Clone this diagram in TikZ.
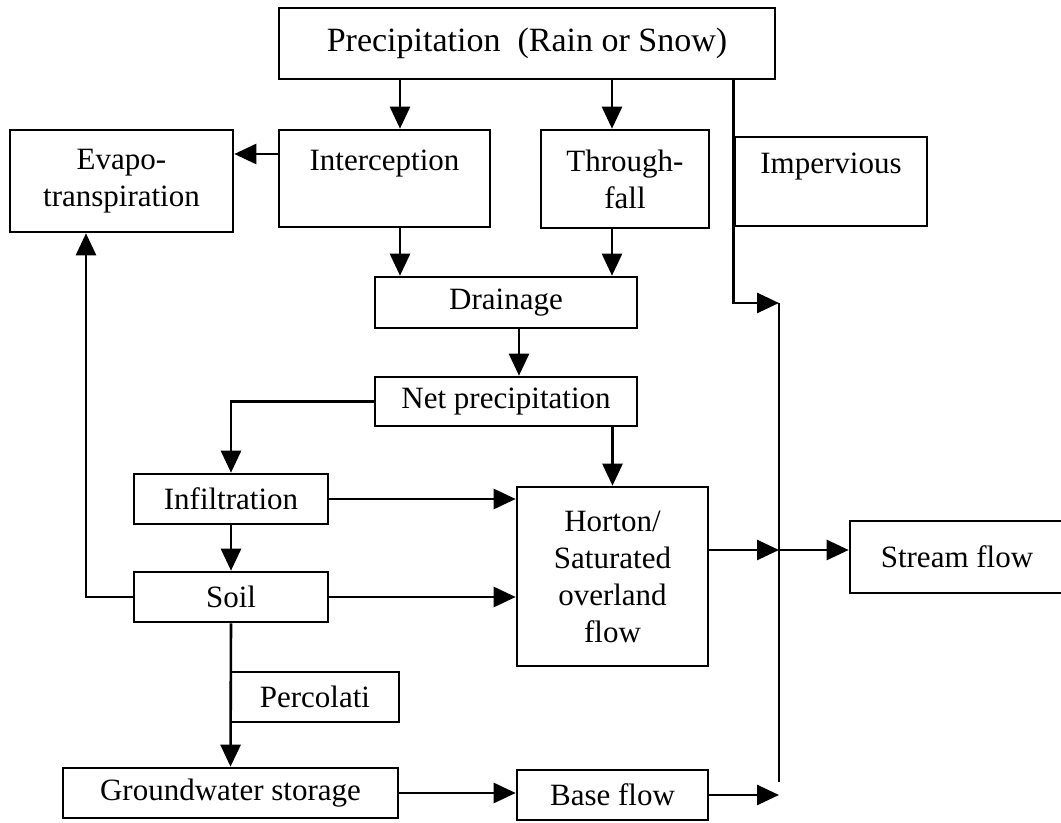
\documentclass[tikz,border=0pt]{standalone}
\usepackage{fontspec}
\setmainfont{Liberation Serif}
\usetikzlibrary{arrows.meta}

\begin{document}
\begin{tikzpicture}[x=0.5pt,y=-0.5pt,line width=1.3pt,>={Triangle[length=11pt,width=10pt]},
  box/.style={draw,inner sep=0pt,align=center,font=\fontsize{15.5}{18.5}\selectfont}]
\useasboundingbox (0,0) rectangle (1061,823);
\clip (0,0) rectangle (1061,823);
% 方框
\node[box,minimum width=248pt,minimum height=35.5pt,font=\fontsize{17}{20}\selectfont] (prec) at (527,43.5) {Precipitation\ \ (Rain or Snow)};
\node[box,minimum width=111.5pt,minimum height=51pt] (evapo) at (121.5,181) {Evapo-\\transpiration};
\node[box,minimum width=105.5pt,minimum height=48.5pt] (interc) at (384.5,178.5) {Interception\\\phantom{I}};
\node[box,minimum width=84pt,minimum height=49pt] (through) at (625,179) {Through-\\fall};
\node[box,minimum width=96pt,minimum height=44.5pt] (imperv) at (831,181.5) {Impervious\\\phantom{I}};
\node[box,minimum width=131pt,minimum height=25.5pt] (drain) at (506,302.5) {Drainage};
\node[box,minimum width=131pt,minimum height=24.5pt] (netp) at (506,401.5) {Net precipitation};
\node[box,minimum width=97pt,minimum height=25pt] (infil) at (231,499) {Infiltration};
\node[box,minimum width=95.5pt,minimum height=89.5pt] (horton) at (612.5,576.5) {Horton/\\Saturated\\overland\\flow};
\node[box,minimum width=97pt,minimum height=25pt] (soil) at (231,597) {Soil};
\node[box,minimum width=84pt,minimum height=25pt] (perc) at (315,697) {Percolati};
\node[box,minimum width=167.5pt,minimum height=25pt] (gw) at (230.5,793) {Groundwater storage};
\node[box,minimum width=95.5pt,minimum height=25pt] (base) at (612.5,795) {Base flow};
\node[box,minimum width=107pt,minimum height=36pt] (stream) at (957,557) {Stream flow};
% 辅助点（箭头所在的列与汇流竖线）
\coordinate (ca) at (400,0);
\coordinate (cb) at (612,0);
\coordinate (cd) at (519,0);
\coordinate (ce) at (86,0);
\coordinate (jt) at (779,303);
\coordinate (jm) at (779,550);
\coordinate (jb) at (779,782);
% 降水分配
\draw[->] (prec.south -| ca) -- (interc.north -| ca);
\draw[->] (prec.south -| cb) -- (through.north -| cb);
\draw[->] (interc.west |- 0,154) -- (evapo.east |- 0,154);
\draw[->] (interc.south -| ca) -- (drain.north -| ca);
\draw[->] (through.south -| cb) -- (drain.north -| cb);
\draw[->] (drain.south -| cd) -- (netp.north -| cd);
% 不透水面直接汇入
\draw[->] (prec.south -| imperv.west) -- (imperv.west |- jt) -- (jt);
\draw (jt) -- (jb);
% 下渗与土壤
\draw[->] (netp.west) -| (infil.north);
\draw[->] (netp.south -| horton.north) -- (horton.north);
\draw[->] (infil.east) -- (infil.east -| horton.west);
\draw[->] (infil.south) -- (soil.north);
\draw[->] (soil.east) -- (soil.east -| horton.west);
\draw[->] (soil.west) -| (evapo.south -| ce);
\draw[->] (soil.south) -- (gw.north);
% 基流与河川径流
\draw[->] (gw.east) -- (gw.east -| base.west);
\draw[->] (base.east) -- (base.east -| jb);
\draw[->] (horton.east |- jm) -- (jm);
\draw[->] (jm) -- (stream.west |- jm);
\end{tikzpicture}
\end{document}
